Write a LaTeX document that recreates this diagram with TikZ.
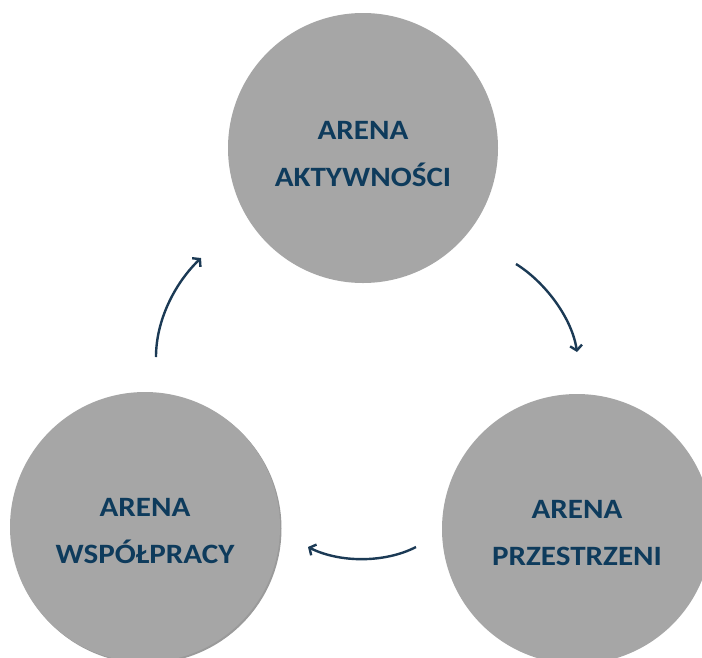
\documentclass[tikz,border=0pt]{standalone}
\usepackage{fontspec}
\setmainfont{Carlito}
\newfontfamily\arenafont[FakeStretch=1.11]{Carlito}
\usepackage{tikz}
\usetikzlibrary{arrows.meta}
\definecolor{arenagray}{HTML}{A6A6A6}
\definecolor{arenashadow}{HTML}{9A9A9A}
\definecolor{arenablue}{HTML}{0E3B5C}
\definecolor{arrowblue}{HTML}{1B3A55}

\begin{document}
\begin{tikzpicture}[x=1pt,y=-1pt,
        arena/.style={circle,fill=arenagray,minimum size=270pt,inner sep=0pt},
        arenatext/.style={text=arenablue,align=center,font=\arenafont\fontsize{28}{47}\selectfont\bfseries},
        cyc/.style={line width=2.4pt,draw=arrowblue,-{Straight Barb[length=5pt,width=12pt]}}]
        \useasboundingbox (0,0) rectangle (702,657);
        \fill[white] (0,0) rectangle (702,657);
        \clip (0,0) rectangle (702,657);
        % circles
        \fill[arenashadow] (146.5,528.5) circle (135pt);
        \node[arena] (akt) at (363,148) {};
        \node[arena] (wsp) at (145,527) {};
        \node[arena] (prz) at (577,529) {};
        \node[arenatext] (akt-t) at ([yshift=-6pt]akt.center) {ARENA\\AKTYWNOŚCI};
        \node[arenatext] (wsp-t) at ([yshift=-4pt]wsp.center) {ARENA\\WSPÓŁPRACY};
        \node[arenatext] (prz-t) at ([yshift=-4pt]prz.center) {ARENA\\PRZESTRZENI};
        % arrows
        \coordinate (wsp-out) at (156,357);
        \coordinate (akt-in) at (201,258);
        \coordinate (akt-out) at (516,264);
        \coordinate (prz-in) at (577,352);
        \coordinate (prz-out) at (416,547);
        \coordinate (wsp-in) at (308,547);
        \draw[cyc] (wsp-out) .. controls (156,320) and (175,283) .. (akt-in);
        \draw[cyc] (akt-out) .. controls (545,282) and (572,318) .. (prz-in);
        \draw[cyc] (prz-out) .. controls (385,563) and (340,563) .. (wsp-in);
\end{tikzpicture}
\end{document}
